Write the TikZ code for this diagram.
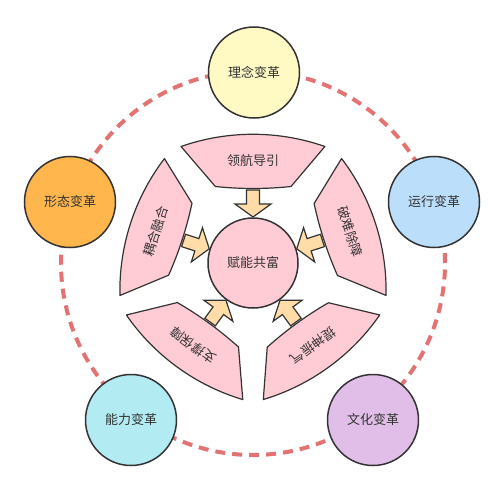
\documentclass[tikz,border=0pt]{standalone}
\usepackage{fontspec}
\newfontfamily\cjk{Noto Sans CJK SC}
\usetikzlibrary{positioning}
\definecolor{RingRed}{HTML}{E37272}
\definecolor{SegPink}{HTML}{FFCCD5}
\definecolor{PushPeach}{HTML}{FFDCA8}
\definecolor{EdgeGray}{HTML}{333333}
\definecolor{IdeaYellow}{HTML}{FFF9C4}
\definecolor{FormOrange}{HTML}{FFB74D}
\definecolor{RunBlue}{HTML}{BBDEFB}
\definecolor{CultPurple}{HTML}{E1BEE7}
\definecolor{SkillCyan}{HTML}{B2EBF2}

\begin{document}
\begin{tikzpicture}[
  x=1pt,
  y=1pt,
  font=\cjk\fontsize{13}{15}\selectfont,
  text=EdgeGray,
  goalnode/.style={circle, draw=EdgeGray, line width=1.5pt, minimum size=91pt, inner sep=0pt},
  segshape/.style={draw=EdgeGray, fill=SegPink, line width=1.2pt, line join=round},
  pushshape/.style={draw=EdgeGray, fill=PushPeach, line width=1.2pt}
]
\useasboundingbox (0,0) rectangle (503,491);
\coordinate (hub) at (253,228);
% dashed ring behind the five changes
\draw[RingRed, line width=4pt, dash pattern=on 10pt off 7pt] (hub) circle[radius=192];
\node[goalnode, fill=IdeaYellow] (idea) at (254,418.5) {理念变革};
\node[goalnode, fill=RunBlue] (run) at (434,289) {运行变革};
\node[goalnode, fill=CultPurple] (culture) at (373,71) {文化变革};
\node[goalnode, fill=SkillCyan] (skill) at (131,71) {能力变革};
\node[goalnode, fill=FormOrange] (form) at (70,289) {形态变革};
% five bent bands, each with an arrow to the hub
\foreach \ang/\lab/\nm in {
  90/领航导引/lead,
  18/破难除障/clear,
  306/提神振气/lift,
  234/支撑保障/prop,
  162/耦合融合/blend
} {
  \begin{scope}[shift={(hub)}, rotate=\ang-90]
    \draw[segshape] (-72,116.5) arc[start angle=109.3, end angle=70.7, radius=217.7]
      -- (38,76.5) arc[start angle=-84, end angle=-96, radius=362] -- cycle;
    \node[transform shape] (\nm) at (0,102) {\lab};
    \draw[pushshape] (-6.5,73) -- (6.5,73) -- (6.5,59) -- (18,59) -- (0,46)
      -- (-18,59) -- (-6.5,59) -- cycle;
  \end{scope}
}
\node[goalnode, fill=SegPink, minimum size=90pt] (core) at (hub) {赋能共富};
\end{tikzpicture}
\end{document}
